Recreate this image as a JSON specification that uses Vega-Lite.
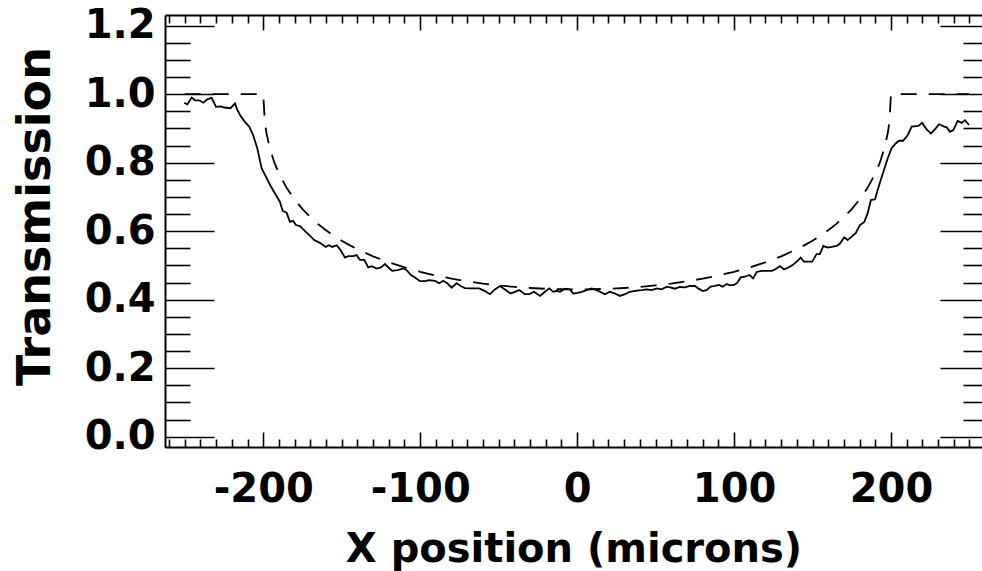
{
  "$schema": "https://vega.github.io/schema/vega-lite/v6.json",
  "width": 817,
  "height": 432,
  "autosize": {"type": "none"},
  "padding": {"left": 165, "top": 15, "right": 0, "bottom": 124},
  "background": "white",
  "config": {
    "view": {"stroke": null},
    "axis": {
      "grid": false,
      "labelFont": "DejaVu Sans",
      "labelFontWeight": "bold",
      "labelFontSize": 40,
      "labelColor": "black",
      "titleFont": "DejaVu Sans",
      "titleFontWeight": "bold",
      "titleFontSize": 40,
      "titleColor": "black",
      "domainColor": "black",
      "domainWidth": 2,
      "tickColor": "black",
      "tickWidth": 1.6,
      "labelOverlap": false,
      "labelFlush": false
    }
  },
  "datasets": {
    "measured": [
      {"x": -250.4, "t": 0.975}, {"x": -248.4, "t": 0.970}, {"x": -245.6, "t": 0.990}, {"x": -243.5, "t": 0.982},
      {"x": -240.8, "t": 0.982}, {"x": -238.2, "t": 0.975}, {"x": -235.7, "t": 0.985}, {"x": -232.9, "t": 0.989},
      {"x": -230.1, "t": 0.963}, {"x": -227.1, "t": 0.964}, {"x": -224.9, "t": 0.961}, {"x": -220.8, "t": 0.959},
      {"x": -218.0, "t": 0.973}, {"x": -216.6, "t": 0.955}, {"x": -214.4, "t": 0.936}, {"x": -211.7, "t": 0.919},
      {"x": -208.9, "t": 0.905}, {"x": -206.4, "t": 0.880}, {"x": -203.8, "t": 0.842}, {"x": -201.0, "t": 0.783},
      {"x": -198.3, "t": 0.759}, {"x": -195.3, "t": 0.732}, {"x": -192.5, "t": 0.710}, {"x": -189.4, "t": 0.686},
      {"x": -187.6, "t": 0.659}, {"x": -185.1, "t": 0.654}, {"x": -183.0, "t": 0.627}, {"x": -180.9, "t": 0.630},
      {"x": -179.2, "t": 0.618}, {"x": -176.6, "t": 0.615}, {"x": -173.4, "t": 0.600}, {"x": -170.8, "t": 0.589},
      {"x": -167.5, "t": 0.574}, {"x": -163.9, "t": 0.566}, {"x": -160.2, "t": 0.554}, {"x": -158.1, "t": 0.559},
      {"x": -156.0, "t": 0.554}, {"x": -153.2, "t": 0.559}, {"x": -151.1, "t": 0.547}, {"x": -147.9, "t": 0.523},
      {"x": -145.8, "t": 0.527}, {"x": -142.7, "t": 0.527}, {"x": -140.5, "t": 0.530}, {"x": -138.4, "t": 0.516},
      {"x": -135.6, "t": 0.516}, {"x": -133.1, "t": 0.494}, {"x": -130.9, "t": 0.498}, {"x": -127.7, "t": 0.491},
      {"x": -125.0, "t": 0.494}, {"x": -122.4, "t": 0.504}, {"x": -120.3, "t": 0.494}, {"x": -117.8, "t": 0.484},
      {"x": -114.4, "t": 0.486}, {"x": -110.8, "t": 0.491}, {"x": -108.6, "t": 0.486}, {"x": -105.9, "t": 0.472},
      {"x": -103.3, "t": 0.465}, {"x": -100.1, "t": 0.454}, {"x": -97.0, "t": 0.454}, {"x": -94.2, "t": 0.457},
      {"x": -90.6, "t": 0.455}, {"x": -87.8, "t": 0.448}, {"x": -85.3, "t": 0.455}, {"x": -82.7, "t": 0.448},
      {"x": -79.9, "t": 0.435}, {"x": -76.8, "t": 0.448}, {"x": -74.2, "t": 0.440}, {"x": -71.5, "t": 0.434},
      {"x": -68.3, "t": 0.433}, {"x": -62.4, "t": 0.433}, {"x": -58.7, "t": 0.425}, {"x": -55.5, "t": 0.416},
      {"x": -52.4, "t": 0.430}, {"x": -49.2, "t": 0.440}, {"x": -46.0, "t": 0.430}, {"x": -42.4, "t": 0.418},
      {"x": -39.6, "t": 0.423}, {"x": -36.9, "t": 0.428}, {"x": -33.2, "t": 0.416}, {"x": -30.5, "t": 0.416},
      {"x": -27.5, "t": 0.423}, {"x": -23.7, "t": 0.411}, {"x": -20.5, "t": 0.423}, {"x": -17.7, "t": 0.433},
      {"x": -15.2, "t": 0.423}, {"x": -13.0, "t": 0.426}, {"x": -10.9, "t": 0.423}, {"x": -7.7, "t": 0.432},
      {"x": -4.6, "t": 0.430}, {"x": -2.5, "t": 0.418}, {"x": 0.3, "t": 0.420}, {"x": 2.9, "t": 0.423},
      {"x": 6.1, "t": 0.428}, {"x": 9.3, "t": 0.433}, {"x": 12.5, "t": 0.428}, {"x": 14.6, "t": 0.423},
      {"x": 17.7, "t": 0.416}, {"x": 20.9, "t": 0.423}, {"x": 24.1, "t": 0.418}, {"x": 27.3, "t": 0.411},
      {"x": 30.5, "t": 0.416}, {"x": 33.7, "t": 0.423}, {"x": 36.9, "t": 0.426}, {"x": 41.1, "t": 0.428},
      {"x": 44.3, "t": 0.430}, {"x": 47.5, "t": 0.428}, {"x": 50.7, "t": 0.433}, {"x": 53.9, "t": 0.430},
      {"x": 57.1, "t": 0.438}, {"x": 59.2, "t": 0.436}, {"x": 62.3, "t": 0.432}, {"x": 65.5, "t": 0.437},
      {"x": 68.7, "t": 0.436}, {"x": 71.9, "t": 0.440}, {"x": 75.1, "t": 0.440}, {"x": 77.2, "t": 0.433},
      {"x": 80.0, "t": 0.425}, {"x": 82.5, "t": 0.428}, {"x": 85.1, "t": 0.438}, {"x": 87.8, "t": 0.440},
      {"x": 90.6, "t": 0.443}, {"x": 92.7, "t": 0.438}, {"x": 95.3, "t": 0.446}, {"x": 97.4, "t": 0.442},
      {"x": 99.9, "t": 0.443}, {"x": 102.0, "t": 0.449}, {"x": 104.2, "t": 0.465}, {"x": 106.9, "t": 0.467},
      {"x": 109.7, "t": 0.472}, {"x": 112.2, "t": 0.462}, {"x": 114.4, "t": 0.481}, {"x": 117.6, "t": 0.484},
      {"x": 121.2, "t": 0.484}, {"x": 124.0, "t": 0.484}, {"x": 126.1, "t": 0.488}, {"x": 129.3, "t": 0.498},
      {"x": 131.8, "t": 0.488}, {"x": 134.6, "t": 0.494}, {"x": 137.4, "t": 0.501}, {"x": 139.9, "t": 0.511},
      {"x": 142.5, "t": 0.523}, {"x": 144.5, "t": 0.511}, {"x": 147.3, "t": 0.511}, {"x": 149.8, "t": 0.511},
      {"x": 152.6, "t": 0.533}, {"x": 154.7, "t": 0.533}, {"x": 156.9, "t": 0.557}, {"x": 159.6, "t": 0.552},
      {"x": 162.2, "t": 0.554}, {"x": 165.4, "t": 0.557}, {"x": 167.5, "t": 0.564}, {"x": 170.2, "t": 0.582},
      {"x": 172.4, "t": 0.574}, {"x": 174.9, "t": 0.584}, {"x": 177.5, "t": 0.594}, {"x": 180.2, "t": 0.618},
      {"x": 183.0, "t": 0.627}, {"x": 185.1, "t": 0.652}, {"x": 187.2, "t": 0.691}, {"x": 189.8, "t": 0.693},
      {"x": 192.3, "t": 0.732}, {"x": 195.1, "t": 0.773}, {"x": 197.9, "t": 0.812}, {"x": 200.4, "t": 0.842},
      {"x": 203.0, "t": 0.856}, {"x": 205.1, "t": 0.864}, {"x": 207.8, "t": 0.864}, {"x": 210.6, "t": 0.880},
      {"x": 213.2, "t": 0.905}, {"x": 217.4, "t": 0.907}, {"x": 219.9, "t": 0.916}, {"x": 222.7, "t": 0.897},
      {"x": 225.5, "t": 0.885}, {"x": 228.5, "t": 0.900}, {"x": 230.6, "t": 0.912}, {"x": 234.0, "t": 0.905},
      {"x": 235.5, "t": 0.903}, {"x": 237.6, "t": 0.890}, {"x": 239.7, "t": 0.895}, {"x": 242.5, "t": 0.922},
      {"x": 245.1, "t": 0.916}, {"x": 247.1, "t": 0.924}, {"x": 249.7, "t": 0.910}
    ],
    "model": [
      {"x": -250, "t": 1.0}, {"x": -200, "t": 1.0}, {"x": -199, "t": 0.9192}, {"x": -198, "t": 0.8878},
      {"x": -196, "t": 0.8454}, {"x": -193, "t": 0.8014}, {"x": -190, "t": 0.7683}, {"x": -185, "t": 0.7257},
      {"x": -180, "t": 0.6922}, {"x": -175, "t": 0.6646}, {"x": -170, "t": 0.6411}, {"x": -165, "t": 0.6206},
      {"x": -160, "t": 0.6027}, {"x": -155, "t": 0.5866}, {"x": -150, "t": 0.5722}, {"x": -145, "t": 0.5592},
      {"x": -140, "t": 0.5473}, {"x": -130, "t": 0.5266}, {"x": -120, "t": 0.5091}, {"x": -110, "t": 0.4942},
      {"x": -100, "t": 0.4815}, {"x": -90, "t": 0.4706}, {"x": -80, "t": 0.4614}, {"x": -70, "t": 0.4536},
      {"x": -60, "t": 0.4470}, {"x": -50, "t": 0.4417}, {"x": -40, "t": 0.4374}, {"x": -30, "t": 0.4341},
      {"x": -20, "t": 0.4318}, {"x": -10, "t": 0.4305}, {"x": 0, "t": 0.4300}, {"x": 10, "t": 0.4305},
      {"x": 20, "t": 0.4318}, {"x": 30, "t": 0.4341}, {"x": 40, "t": 0.4374}, {"x": 50, "t": 0.4417},
      {"x": 60, "t": 0.4470}, {"x": 70, "t": 0.4536}, {"x": 80, "t": 0.4614}, {"x": 90, "t": 0.4706},
      {"x": 100, "t": 0.4815}, {"x": 110, "t": 0.4942}, {"x": 120, "t": 0.5091}, {"x": 130, "t": 0.5266},
      {"x": 140, "t": 0.5473}, {"x": 145, "t": 0.5592}, {"x": 150, "t": 0.5722}, {"x": 155, "t": 0.5866},
      {"x": 160, "t": 0.6027}, {"x": 165, "t": 0.6206}, {"x": 170, "t": 0.6411}, {"x": 175, "t": 0.6646},
      {"x": 180, "t": 0.6922}, {"x": 185, "t": 0.7257}, {"x": 190, "t": 0.7683}, {"x": 193, "t": 0.8014},
      {"x": 196, "t": 0.8454}, {"x": 198, "t": 0.8878}, {"x": 199, "t": 0.9192}, {"x": 200, "t": 1.0},
      {"x": 250, "t": 1.0}
    ]
  },
  "resolve": {"axis": {"x": "independent", "y": "independent"}},
  "layer": [
    {
      "data": {"name": "measured"},
      "mark": {"type": "line", "color": "black", "strokeWidth": 1.8, "clip": true},
      "encoding": {
        "x": {"field": "x", "type": "quantitative", "sort": null,
          "scale": {"domain": [-262.6, 258], "nice": false, "zero": false},
          "axis": {"orient": "bottom", "values": [-200, -100, 0, 100, 200], "ticks": false,
            "labelExpr": "datum.value < 0 ? '-' + abs(datum.value) : '' + datum.value",
            "labelPadding": 22, "title": "X position (microns)", "titlePadding": 20, "domain": true}},
        "y": {"field": "t", "type": "quantitative",
          "scale": {"domain": [-0.03, 1.231], "nice": false, "zero": false},
          "axis": {"orient": "left", "values": [0, 0.2, 0.4, 0.6, 0.8, 1.0, 1.2], "format": ".1f", "ticks": false,
            "labelPadding": 10, "title": "Transmission", "titleFontSize": 46, "titlePadding": 25, "titleY": 201, "domain": true}}
      }
    },
    {
      "data": {"name": "model"},
      "mark": {"type": "line", "color": "black", "strokeWidth": 1.8, "strokeDash": [16, 12], "clip": true},
      "encoding": {
        "x": {"field": "x", "type": "quantitative", "sort": null,
          "scale": {"domain": [-262.6, 258], "nice": false, "zero": false},
          "axis": {"orient": "bottom", "values": [-200, -100, 0, 100, 200], "labels": false, "tickSize": -15,
            "title": null, "domain": false}},
        "y": {"field": "t", "type": "quantitative",
          "scale": {"domain": [-0.03, 1.231], "nice": false, "zero": false},
          "axis": {"orient": "left", "values": [0, 0.2, 0.4, 0.6, 0.8, 1.0, 1.2], "labels": false, "tickSize": -49,
            "title": null, "domain": false}}
      }
    },
    {
      "data": {"name": "model"},
      "mark": {"type": "line", "strokeOpacity": 0},
      "encoding": {
        "x": {"field": "x", "type": "quantitative", "sort": null,
          "scale": {"domain": [-262.6, 258], "nice": false, "zero": false},
          "axis": {"orient": "bottom", "values": [-260, -250, -240, -230, -220, -210, -190, -180, -170, -160, -150, -140, -130, -120, -110, -90, -80, -70, -60, -50, -40, -30, -20, -10, 10, 20, 30, 40, 50, 60, 70, 80, 90, 110, 120, 130, 140, 150, 160, 170, 180, 190, 210, 220, 230, 240, 250],
            "labels": false, "tickSize": -8, "title": null, "domain": false}},
        "y": {"field": "t", "type": "quantitative",
          "scale": {"domain": [-0.03, 1.231], "nice": false, "zero": false},
          "axis": {"orient": "left", "values": [0.05, 0.1, 0.15, 0.25, 0.3, 0.35, 0.45, 0.5, 0.55, 0.65, 0.7, 0.75, 0.85, 0.9, 0.95, 1.05, 1.1, 1.15],
            "labels": false, "tickSize": -25, "title": null, "domain": false}}
      }
    },
    {
      "data": {"name": "model"},
      "mark": {"type": "line", "strokeOpacity": 0},
      "encoding": {
        "x": {"field": "x", "type": "quantitative", "sort": null,
          "scale": {"domain": [-262.6, 258], "nice": false, "zero": false},
          "axis": {"orient": "top", "values": [-200, -100, 0, 100, 200], "labels": false, "tickSize": -15,
            "title": null, "domain": true}},
        "y": {"field": "t", "type": "quantitative",
          "scale": {"domain": [-0.03, 1.231], "nice": false, "zero": false},
          "axis": {"orient": "right", "values": [0, 0.2, 0.4, 0.6, 0.8, 1.0, 1.2], "labels": false, "tickSize": -42,
            "title": null, "domain": false}}
      }
    },
    {
      "data": {"name": "model"},
      "mark": {"type": "line", "strokeOpacity": 0},
      "encoding": {
        "x": {"field": "x", "type": "quantitative", "sort": null,
          "scale": {"domain": [-262.6, 258], "nice": false, "zero": false},
          "axis": {"orient": "top", "values": [-260, -250, -240, -230, -220, -210, -190, -180, -170, -160, -150, -140, -130, -120, -110, -90, -80, -70, -60, -50, -40, -30, -20, -10, 10, 20, 30, 40, 50, 60, 70, 80, 90, 110, 120, 130, 140, 150, 160, 170, 180, 190, 210, 220, 230, 240, 250],
            "labels": false, "tickSize": -8, "title": null, "domain": false}},
        "y": {"field": "t", "type": "quantitative",
          "scale": {"domain": [-0.03, 1.231], "nice": false, "zero": false},
          "axis": {"orient": "right", "values": [0.05, 0.1, 0.15, 0.25, 0.3, 0.35, 0.45, 0.5, 0.55, 0.65, 0.7, 0.75, 0.85, 0.9, 0.95, 1.05, 1.1, 1.15],
            "labels": false, "tickSize": -19, "title": null, "domain": false}}
      }
    }
  ]
}
